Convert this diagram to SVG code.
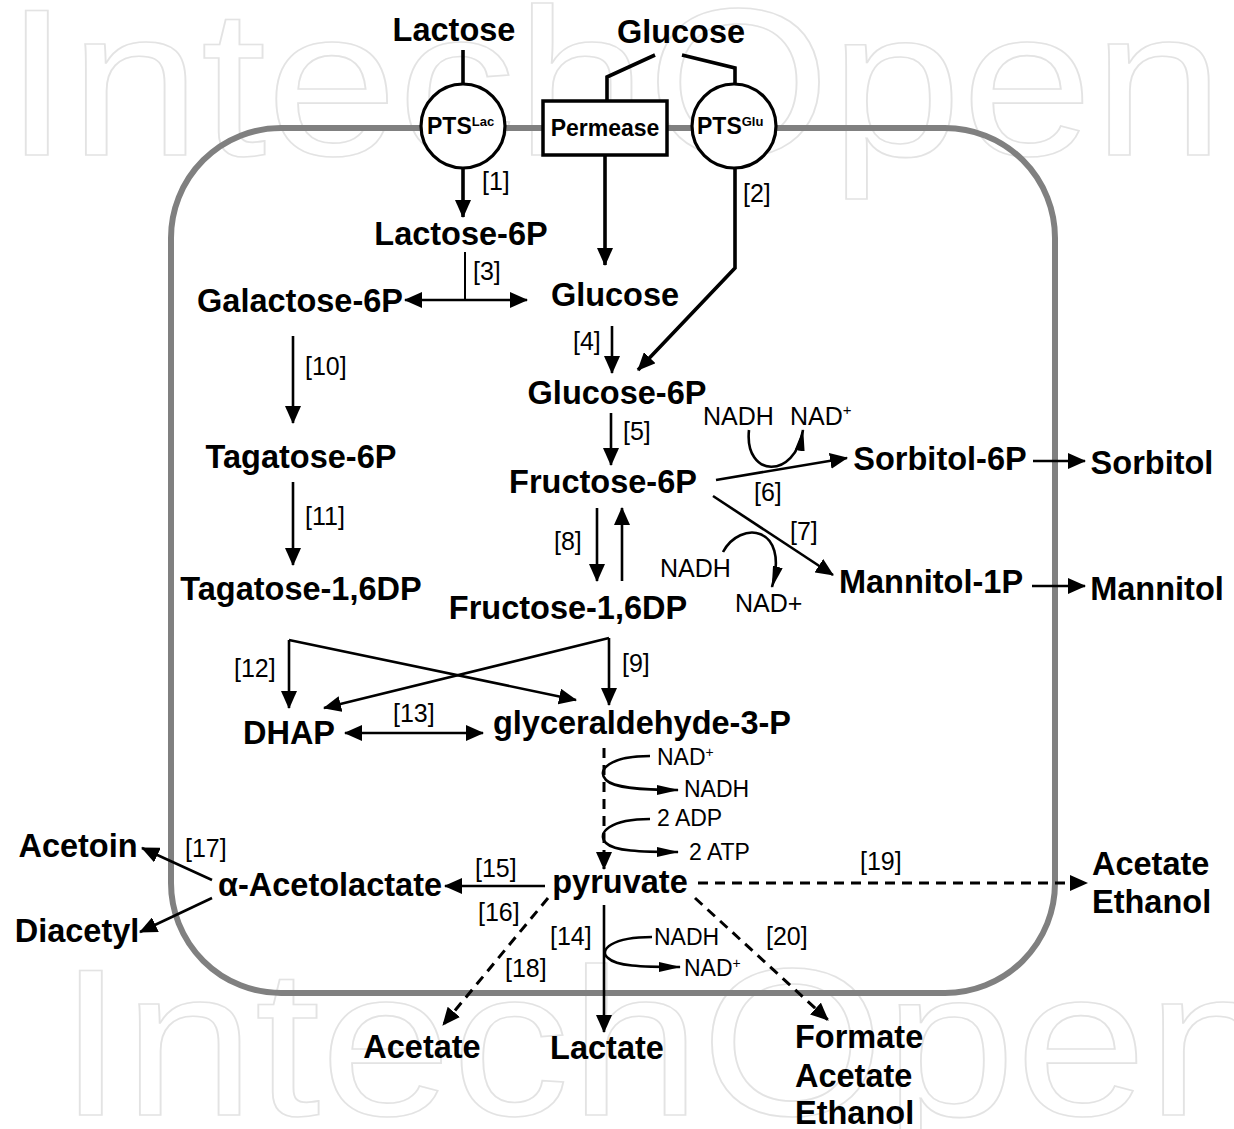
<svg xmlns="http://www.w3.org/2000/svg" width="1234" height="1129" viewBox="0 0 1234 1129">
<defs>
<style>
.wm{font-family:"Liberation Sans",Arial,sans-serif;font-size:210px;fill:none;stroke:#e3e3e3;stroke-width:1.6}
.b{font-family:"Liberation Sans",Arial,sans-serif;font-weight:bold;font-size:32.5px;fill:#000}
.r{font-family:"Liberation Sans",Arial,sans-serif;font-size:25px;fill:#000}
.s{font-family:"Liberation Sans",Arial,sans-serif;font-size:23px;fill:#000}
.pts{font-family:"Liberation Sans",Arial,sans-serif;font-weight:bold;font-size:23px;fill:#000}
.ln{fill:none;stroke:#000;stroke-width:2.6}
.thick{fill:none;stroke:#000;stroke-width:3.6}
.thin{fill:none;stroke:#000;stroke-width:2}
.dash{fill:none;stroke:#000;stroke-width:3;stroke-dasharray:10 7}
.a{marker-end:url(#ah)}
.a2{marker-start:url(#ah);marker-end:url(#ah)}
.as{marker-end:url(#ahs)}
</style>
<marker id="ah" markerUnits="userSpaceOnUse" markerWidth="18" markerHeight="16" refX="17" refY="8" orient="auto-start-reverse"><path d="M0,0 L18,8 L0,16 z" fill="#000"/></marker>
<marker id="ahs" markerUnits="userSpaceOnUse" markerWidth="22" markerHeight="10" refX="21" refY="5" orient="auto"><path d="M0,0 L22,5 L0,10 z" fill="#000"/></marker>
</defs>
<rect width="1234" height="1129" fill="#fff"/>
<g id="watermark">
<text class="wm" x="4" y="155" textLength="1220" lengthAdjust="spacingAndGlyphs">IntechOpen</text>
<text class="wm" x="58" y="1115" textLength="1220" lengthAdjust="spacingAndGlyphs">IntechOpen</text>
</g>
<g id="membrane"><rect x="171" y="128" width="884" height="865" rx="110" ry="110" fill="none" stroke="#808080" stroke-width="6"/></g>
<g id="connectors">
<path class="thick" d="M463,50 L463,84"/>
<path class="thick" d="M655,55 L607,77 L607,100"/>
<path class="thick" d="M682,55 L735,68 L735,84"/>
<path class="thick a" d="M463,168 L463,217"/>
<path class="thick a" d="M605,155 L605,265"/>
<path class="thick a" d="M735,168 L735,268 L638,370"/>
<path class="thin" d="M465,252 L465,300"/>
<path class="ln a2" d="M405,300 L527,300"/>
<path class="ln a" d="M612,326 L612,373"/>
<path class="ln a" d="M611,413 L611,465"/>
<path class="ln a" d="M716,480 L847,458"/>
<path class="ln a" d="M713,496 L833,575"/>
<path class="ln as" d="M749,430 C744,478 795,480 803,430"/>
<path class="ln as" d="M723,552 C740,520 790,525 772,587"/>
<path class="ln a" d="M597,508 L597,581"/>
<path class="ln a" d="M622,581 L622,508"/>
<path class="ln a" d="M1033,461 L1085,461"/>
<path class="ln a" d="M1032,586 L1085,586"/>
<path class="ln a" d="M293,336 L293,423"/>
<path class="ln a" d="M293,482 L293,565"/>
<path class="ln a" d="M289,640 L289,708"/>
<path class="ln a" d="M289,640 L576,700"/>
<path class="ln a" d="M609,638 L609,705"/>
<path class="ln a" d="M609,638 L324,708"/>
<path class="ln a2" d="M345,733 L483,733"/>
<path class="dash a" d="M604,748 L604,869"/>
<path class="ln as" d="M650,756 C610,756 596,770 606,780 C614,788 640,790 678,790"/>
<path class="ln as" d="M650,819 C610,819 596,833 606,843 C614,851 640,852 678,852"/>
<path class="ln a" d="M545,886 L445,886"/>
<path class="ln a" d="M212,880 L142,848"/>
<path class="ln a" d="M212,898 L140,932"/>
<path class="dash a" d="M548,898 L443,1025"/>
<path class="ln a" d="M604,905 L604,1032"/>
<path class="ln as" d="M652,937 C612,937 598,950 608,958 C616,966 640,967 680,967"/>
<path class="dash a" d="M695,898 L828,1020"/>
<path class="dash a" d="M698,883 L1087,883"/>
</g>
<g id="labels">
<text class="r" x="482" y="190">[1]</text>
<text class="r" x="743" y="202">[2]</text>
<text class="r" x="473" y="280">[3]</text>
<text class="r" x="573" y="350">[4]</text>
<text class="r" x="623" y="440">[5]</text>
<text class="r" x="754" y="501">[6]</text>
<text class="r" x="790" y="540">[7]</text>
<text class="r" x="554" y="550">[8]</text>
<text class="r" x="622" y="672">[9]</text>
<text class="r" x="305" y="375">[10]</text>
<text class="r" x="305" y="525">[11]</text>
<text class="r" x="234" y="677">[12]</text>
<text class="r" x="393" y="722">[13]</text>
<text class="r" x="550" y="945">[14]</text>
<text class="r" x="475" y="877">[15]</text>
<text class="r" x="478" y="921">[16]</text>
<text class="r" x="185" y="857">[17]</text>
<text class="r" x="505" y="977">[18]</text>
<text class="r" x="860" y="870">[19]</text>
<text class="r" x="766" y="945">[20]</text>
<text class="r" x="703" y="425">NADH</text>
<text class="r" x="790" y="425">NAD<tspan font-size="15" dy="-10">+</tspan></text>
<text class="r" x="660" y="577">NADH</text>
<text class="r" x="735" y="612">NAD+</text>
<text class="s" x="657" y="765">NAD<tspan font-size="14" dy="-8">+</tspan></text>
<text class="s" x="684" y="797">NADH</text>
<text class="s" x="657" y="826">2 ADP</text>
<text class="s" x="689" y="860">2 ATP</text>
<text class="s" x="654" y="945">NADH</text>
<text class="s" x="684" y="976">NAD<tspan font-size="14" dy="-8">+</tspan></text>
</g>
<g id="n-lactose"><text class="b" x="454" y="41" text-anchor="middle">Lactose</text></g>
<g id="n-glucose-out"><text class="b" x="681" y="43" text-anchor="middle">Glucose</text></g>
<g id="n-ptslac"><circle cx="463" cy="126" r="42" fill="#fff" stroke="#000" stroke-width="3.2"/><text class="pts" x="427" y="134">PTS<tspan font-size="13" dy="-8">Lac</tspan></text></g>
<g id="n-permease"><rect x="543" y="101" width="124" height="54" fill="#fff" stroke="#000" stroke-width="3.5"/><text class="pts" x="605" y="136" text-anchor="middle" font-size="22">Permease</text></g>
<g id="n-ptsglu"><circle cx="734" cy="126" r="42" fill="#fff" stroke="#000" stroke-width="3.2"/><text class="pts" x="697" y="134">PTS<tspan font-size="13" dy="-8">Glu</tspan></text></g>
<g id="n-lactose6p"><text class="b" x="461" y="245" text-anchor="middle">Lactose-6P</text></g>
<g id="n-galactose6p"><text class="b" x="300" y="312" text-anchor="middle">Galactose-6P</text></g>
<g id="n-glucose"><text class="b" x="615" y="306" text-anchor="middle">Glucose</text></g>
<g id="n-glucose6p"><text class="b" x="617" y="404" text-anchor="middle">Glucose-6P</text></g>
<g id="n-fructose6p"><text class="b" x="603" y="493" text-anchor="middle">Fructose-6P</text></g>
<g id="n-sorbitol6p"><text class="b" x="940" y="470" text-anchor="middle">Sorbitol-6P</text></g>
<g id="n-sorbitol"><text class="b" x="1152" y="474" text-anchor="middle">Sorbitol</text></g>
<g id="n-mannitol1p"><text class="b" x="931" y="593" text-anchor="middle">Mannitol-1P</text></g>
<g id="n-mannitol"><text class="b" x="1157" y="600" text-anchor="middle">Mannitol</text></g>
<g id="n-tagatose6p"><text class="b" x="301" y="468" text-anchor="middle">Tagatose-6P</text></g>
<g id="n-tagatose16dp"><text class="b" x="301" y="600" text-anchor="middle">Tagatose-1,6DP</text></g>
<g id="n-fructose16dp"><text class="b" x="568" y="619" text-anchor="middle">Fructose-1,6DP</text></g>
<g id="n-dhap"><text class="b" x="289" y="744" text-anchor="middle">DHAP</text></g>
<g id="n-g3p"><text class="b" x="642" y="734" text-anchor="middle">glyceraldehyde-3-P</text></g>
<g id="n-pyruvate"><text class="b" x="620" y="893" text-anchor="middle">pyruvate</text></g>
<g id="n-acetolactate"><text class="b" x="330" y="896" text-anchor="middle">α-Acetolactate</text></g>
<g id="n-acetoin"><text class="b" x="78" y="857" text-anchor="middle">Acetoin</text></g>
<g id="n-diacetyl"><text class="b" x="77" y="942" text-anchor="middle">Diacetyl</text></g>
<g id="n-acetate-ethanol"><text class="b" x="1092" y="875">Acetate</text><text class="b" x="1092" y="913">Ethanol</text></g>
<g id="n-acetate"><text class="b" x="422" y="1058" text-anchor="middle">Acetate</text></g>
<g id="n-lactate"><text class="b" x="607" y="1059" text-anchor="middle">Lactate</text></g>
<g id="n-formate"><text class="b" x="795" y="1048">Formate</text><text class="b" x="795" y="1087">Acetate</text><text class="b" x="795" y="1124">Ethanol</text></g>
</svg>
